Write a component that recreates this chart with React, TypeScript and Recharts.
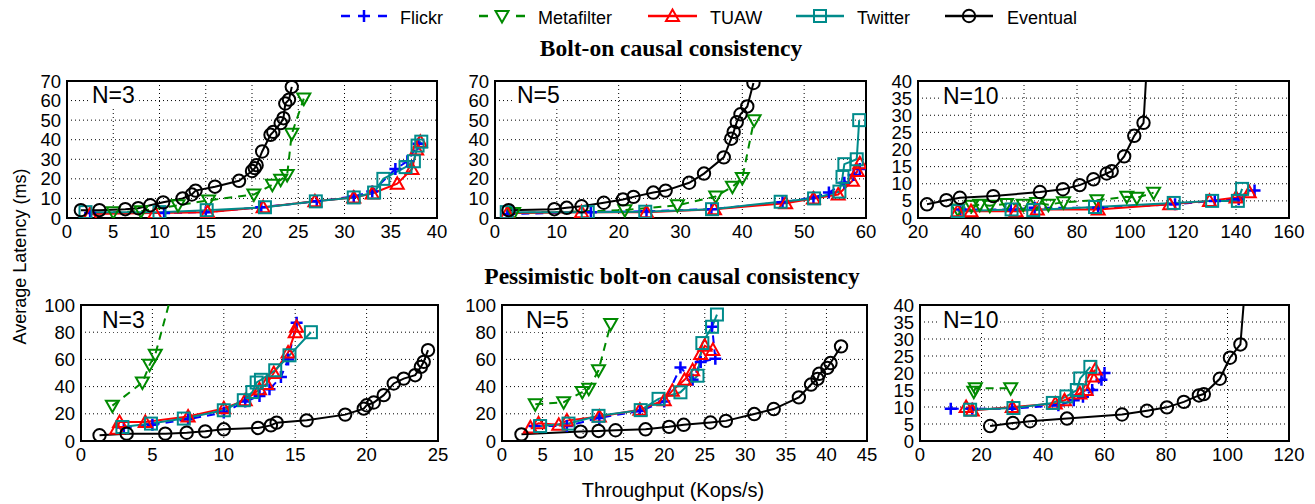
import React from "react";
import {
  CartesianGrid,
  Line,
  LineChart,
  ReferenceArea,
  XAxis,
  YAxis,
} from "recharts";

type Pt = [number, number];

// ---- Bolt-on causal consistency, N=3 ----
const boltN3Flickr: Pt[] = [[2.5, 2.5], [10.5, 2.5], [15, 3], [21, 5.5], [27, 8.5], [31, 11], [33, 13.5], [35.5, 25], [36.8, 29], [38, 38]];
const boltN3Metafilter: Pt[] = [[5, 3], [8, 3.5], [12, 6.5], [15.3, 9], [20.2, 12], [22.2, 17], [23.1, 19.5], [23.8, 22], [24.3, 43], [25.6, 61]];
const boltN3Tuaw: Pt[] = [[2.5, 2], [9.5, 2.5], [15.2, 3], [21.2, 5.5], [26.8, 8.5], [31, 10.5], [33, 12.5], [35.7, 17.5], [37.3, 25], [37.8, 35], [38.2, 39]];
const boltN3Twitter: Pt[] = [[2, 3], [10, 3], [15.1, 4], [21.4, 5.5], [26.9, 8.5], [31, 10.5], [33.2, 13], [34.2, 20], [36.6, 26], [37.5, 29], [37.9, 37], [38.3, 39]];
const boltN3Eventual: Pt[] = [[1.5, 4], [3.5, 4], [6.3, 4.5], [7.7, 5], [9, 6.5], [10.4, 8], [12.5, 10], [13.5, 12], [13.9, 14], [16, 16], [18.6, 19], [20, 24], [20.3, 25.5], [20.5, 27], [21.1, 34], [22, 42.5], [22.3, 44], [23.1, 48.5], [23.4, 51], [23.6, 58.5], [24, 60.5], [24.3, 67]];

// ---- Bolt-on causal consistency, N=5 ----
const boltN5Flickr: Pt[] = [[2, 2], [15.5, 3], [24.5, 3.5], [35, 4.5], [46.5, 8], [51.5, 10.5], [54, 13], [56.5, 18], [58, 22], [59, 25]];
const boltN5Metafilter: Pt[] = [[3, 2.5], [21, 4], [29.5, 6.5], [35.7, 11], [38.4, 16], [40, 20.5], [41.9, 50]];
const boltN5Tuaw: Pt[] = [[2, 2.5], [14, 3], [24.5, 3], [35.5, 4.5], [47, 7.5], [51.5, 10], [55.5, 12], [57.8, 19], [58.6, 24], [59, 28]];
const boltN5Twitter: Pt[] = [[1.9, 3], [15, 3], [24.3, 3.2], [35.1, 4.5], [46.2, 8.3], [51.6, 10], [55.7, 13.5], [56.2, 21], [56.5, 27.5], [58.5, 30], [58.9, 50]];
const boltN5Eventual: Pt[] = [[2.2, 4], [9.6, 4.5], [11.6, 5.2], [14, 6], [17.6, 7.8], [20.7, 9.5], [22.4, 10.8], [25.6, 13], [27.6, 14], [31.4, 18], [33.8, 22.7], [37, 31], [38.2, 40.5], [38.6, 44], [39.1, 49], [39.7, 53], [40.8, 57], [41.8, 69]];

// ---- Bolt-on causal consistency, N=10 ----
const boltN10Flickr: Pt[] = [[36, 2.5], [55, 2.5], [64, 3], [88, 3], [117, 4], [132, 5], [141, 5.5], [147, 8]];
const boltN10Metafilter: Pt[] = [[35, 2.5], [40.2, 3.6], [43.3, 3.9], [47.1, 3.6], [53.4, 4.1], [59.7, 3.9], [64.8, 4.4], [69.2, 3.9], [74.9, 4.6], [87.5, 5.2], [98.8, 6.2], [102.6, 5.9], [108.9, 7.4]];
const boltN10Tuaw: Pt[] = [[35, 2], [40, 2], [57, 2], [65, 2.5], [88, 2.5], [115, 4], [130, 5], [140, 6], [145, 7.5]];
const boltN10Twitter: Pt[] = [[35, 2], [55.3, 2.5], [63.5, 2.3], [86.8, 3.2], [116.5, 4.4], [131, 5], [140.7, 5], [142.3, 8.5]];
const boltN10Eventual: Pt[] = [[23.4, 4], [30.7, 5.2], [35.8, 5.9], [48.4, 6.4], [66, 7.6], [74.7, 8.4], [81, 9.6], [86.2, 11.3], [91.2, 13], [93.1, 13.7], [97.8, 18], [101.6, 24], [105.1, 27.8], [107.5, 60]];

// ---- Pessimistic bolt-on, N=3 ----
const pessN3Flickr: Pt[] = [[3, 10], [5, 12], [7.5, 16], [10, 21], [11.5, 29], [12.5, 33], [13.2, 38], [14, 47], [14.5, 60], [15.1, 87]];
const pessN3Metafilter: Pt[] = [[2.2, 26], [4.3, 43], [4.8, 56], [5.2, 63.5], [6.4, 110]];
const pessN3Tuaw: Pt[] = [[2.5, 9], [2.7, 14], [4.5, 14], [7.5, 18], [10, 24], [11.5, 30], [12.5, 38], [13, 42], [13.5, 50], [14.5, 65], [15, 80], [15.1, 84]];
const pessN3Twitter: Pt[] = [[2.9, 10.3], [4.9, 12.8], [7.2, 16.5], [10, 22.6], [11.4, 30], [12, 36], [12.3, 43], [12.6, 45], [13.6, 52], [14.6, 63], [16.1, 80]];
const pessN3Eventual: Pt[] = [[1.3, 4.2], [3.2, 5.4], [5.9, 5.4], [7.4, 6.1], [8.7, 7.1], [10, 8.6], [12.4, 9.6], [13.3, 11.5], [13.7, 13.5], [15.8, 15.2], [18.5, 19.4], [19.8, 23.8], [20, 26.3], [20.5, 28.3], [21.2, 33.7], [21.9, 42.3], [22.6, 45.9], [23.4, 48.4], [23.8, 54.5], [24, 58.2], [24.3, 66.8]];

// ---- Pessimistic bolt-on, N=5 ----
const pessN5Flickr: Pt[] = [[4, 11], [8, 11], [12, 17], [17, 22], [20, 29], [22, 54], [23.5, 45], [24.5, 58], [26.3, 60.5], [25.9, 84]];
const pessN5Metafilter: Pt[] = [[4.1, 27], [7.6, 28.5], [9.9, 36], [10.7, 38.5], [11.9, 52], [13.4, 86]];
const pessN5Tuaw: Pt[] = [[3.5, 10], [4.5, 13], [7, 12], [8, 15], [12, 18], [17, 23], [20, 30], [21, 37], [22.5, 45], [23.5, 52], [24.5, 64], [25, 70], [26, 67]];
const pessN5Twitter: Pt[] = [[4.7, 11], [8.2, 12.8], [11.9, 18.5], [17.1, 22.7], [19.3, 31], [22, 35.8], [24.1, 48], [24.7, 72], [25.9, 84], [26.5, 93]];
const pessN5Eventual: Pt[] = [[2.4, 4.9], [9.7, 6.9], [11.9, 7.4], [14, 7.9], [17.7, 8.6], [20.6, 10.4], [22.4, 11.9], [25.7, 13.6], [27.6, 14.8], [31.1, 19.8], [33.5, 23.5], [36.6, 32.1], [38.1, 41.5], [38.9, 45.7], [39.1, 49.4], [40.1, 53.8], [40.5, 57.3], [41.8, 69.6]];

// ---- Pessimistic bolt-on, N=10 ----
const pessN10Flickr: Pt[] = [[10, 9.5], [17, 9.5], [30, 9.5], [45, 10.5], [50, 12], [53, 13], [56, 15], [59, 18], [60, 20]];
const pessN10Metafilter: Pt[] = [[17.5, 14.5], [18, 15.5], [29.5, 15.5]];
const pessN10Tuaw: Pt[] = [[15, 10], [17, 9], [30, 10], [44, 11], [47, 12], [52, 14], [54, 15], [56, 19], [57, 21]];
const pessN10Twitter: Pt[] = [[16.3, 9.2], [30.4, 9.7], [43.2, 11.2], [47.6, 13.1], [51, 15], [52.1, 18.4], [55.4, 21.8]];
const pessN10Eventual: Pt[] = [[22.8, 4.4], [30.2, 5.3], [35.8, 5.8], [47.8, 6.6], [65.7, 7.8], [73.8, 8.9], [80.3, 9.9], [85.8, 11.5], [90.7, 13.4], [92.3, 13.8], [97.5, 18.3], [100.8, 24.5], [104.2, 28.4], [107, 60]];

// ticks
const ticksX40 = [0, 5, 10, 15, 20, 25, 30, 35, 40];
const ticksX60 = [0, 10, 20, 30, 40, 50, 60];
const ticksX160 = [20, 40, 60, 80, 100, 120, 140, 160];
const ticksX25 = [0, 5, 10, 15, 20, 25];
const ticksX45 = [0, 5, 10, 15, 20, 25, 30, 35, 40, 45];
const ticksX120 = [0, 20, 40, 60, 80, 100, 120];
const ticksY70 = [0, 10, 20, 30, 40, 50, 60, 70];
const ticksY40 = [0, 5, 10, 15, 20, 25, 30, 35, 40];
const ticksY100 = [0, 20, 40, 60, 80, 100];

const seriesNames = ["Flickr", "Metafilter", "TUAW", "Twitter", "Eventual"];

type Shape = "plus" | "triDown" | "triUp" | "square" | "circle";
const seriesStyle: { color: string; dash?: string; shape: Shape }[] = [
  { color: "#0000ff", dash: "8 6", shape: "plus" },
  { color: "#008a00", dash: "8 6", shape: "triDown" },
  { color: "#ff0000", shape: "triUp" },
  { color: "#008b8b", shape: "square" },
  { color: "#000000", shape: "circle" },
];

const SANS = "'Liberation Sans', Arial, Helvetica, sans-serif";
const SERIF = "'Liberation Serif', 'Times New Roman', serif";

function Marker({ shape, color, cx, cy }: { shape: Shape; color: string; cx: number; cy: number }) {
  const sw = 2;
  switch (shape) {
    case "plus":
      return <path d={`M${cx - 6},${cy}H${cx + 6}M${cx},${cy - 6}V${cy + 6}`} stroke={color} strokeWidth={2.5} fill="none" />;
    case "triDown":
      return <path d={`M${cx - 6.5},${cy - 5}L${cx + 6.5},${cy - 5}L${cx},${cy + 6.5}Z`} stroke={color} strokeWidth={sw} fill="none" />;
    case "triUp":
      return <path d={`M${cx - 6.5},${cy + 5}L${cx + 6.5},${cy + 5}L${cx},${cy - 6.5}Z`} stroke={color} strokeWidth={sw} fill="none" />;
    case "square":
      return <rect x={cx - 6} y={cy - 6} width={12} height={12} stroke={color} strokeWidth={sw} fill="none" />;
    default:
      return <circle cx={cx} cy={cy} r={6.2} stroke={color} strokeWidth={sw} fill="none" />;
  }
}

type PanelProps = {
  left: number;
  top: number;
  width: number;
  height: number;
  xDomain: [number, number];
  yDomain: [number, number];
  xTicks: number[];
  yTicks: number[];
  series: Pt[][];
};

const YW = 50;
const MT = 10;
const MR = 24;
const XH = 30;

function Panel({ left, top, width, height, xDomain, yDomain, xTicks, yTicks, series }: PanelProps) {
  const tick = { fill: "#000", fontSize: 18.5, fontFamily: SANS };
  return (
    <div style={{ position: "absolute", left: left - YW, top: top - MT }}>
      <LineChart
        width={YW + width + MR}
        height={MT + height + XH}
        margin={{ top: MT, right: MR, left: 0, bottom: 0 }}
      >
        <CartesianGrid stroke="#000" strokeDasharray="1 3" strokeWidth={1} />
        <XAxis
          type="number"
          dataKey="x"
          domain={xDomain}
          ticks={xTicks}
          allowDataOverflow
          height={XH}
          tickLine={false}
          axisLine={false}
          tickSize={4}
          tickMargin={3}
          tick={tick}
          interval={0}
        />
        <YAxis
          type="number"
          dataKey="y"
          domain={yDomain}
          ticks={yTicks}
          allowDataOverflow
          width={YW}
          tickLine={false}
          axisLine={false}
          tickSize={3}
          tickMargin={3}
          tick={tick}
          interval={0}
        />
        {series.map((pts, i) => {
          const st = seriesStyle[i];
          return (
            <Line
              key={seriesNames[i]}
              name={seriesNames[i]}
              data={pts.map(([x, y]) => ({ x, y }))}
              dataKey="y"
              type="linear"
              stroke={st.color}
              strokeWidth={2}
              strokeDasharray={st.dash}
              isAnimationActive={false}
              activeDot={false}
              dot={(p: any) => (
                <Marker key={`${i}-${p.index}`} shape={st.shape} color={st.color} cx={p.cx} cy={p.cy} />
              )}
            />
          );
        })}
        <ReferenceArea
          x1={xDomain[0]}
          x2={xDomain[1]}
          y1={yDomain[0]}
          y2={yDomain[1]}
          fill="none"
          fillOpacity={0}
          stroke="#000"
          strokeWidth={2}
        />
      </LineChart>
    </div>
  );
}

const panels: (PanelProps & { label: string; labelX: number; labelY: number })[] = [
  { left: 67, top: 81, width: 370, height: 137, xDomain: [0, 40], yDomain: [0, 70], xTicks: ticksX40, yTicks: ticksY70, series: [boltN3Flickr, boltN3Metafilter, boltN3Tuaw, boltN3Twitter, boltN3Eventual], label: "N=3", labelX: 92, labelY: 103 },
  { left: 495, top: 81, width: 371, height: 137, xDomain: [0, 60], yDomain: [0, 70], xTicks: ticksX60, yTicks: ticksY70, series: [boltN5Flickr, boltN5Metafilter, boltN5Tuaw, boltN5Twitter, boltN5Eventual], label: "N=5", labelX: 517, labelY: 103 },
  { left: 918, top: 81, width: 371, height: 137, xDomain: [20, 160], yDomain: [0, 40], xTicks: ticksX160, yTicks: ticksY40, series: [boltN10Flickr, boltN10Metafilter, boltN10Tuaw, boltN10Twitter, boltN10Eventual], label: "N=10", labelX: 943, labelY: 104 },
  { left: 81, top: 305, width: 357, height: 136, xDomain: [0, 25], yDomain: [0, 100], xTicks: ticksX25, yTicks: ticksY100, series: [pessN3Flickr, pessN3Metafilter, pessN3Tuaw, pessN3Twitter, pessN3Eventual], label: "N=3", labelX: 102, labelY: 328 },
  { left: 502, top: 305, width: 365, height: 136, xDomain: [0, 45], yDomain: [0, 100], xTicks: ticksX45, yTicks: ticksY100, series: [pessN5Flickr, pessN5Metafilter, pessN5Tuaw, pessN5Twitter, pessN5Eventual], label: "N=5", labelX: 526, labelY: 328 },
  { left: 920, top: 305, width: 369, height: 136, xDomain: [0, 120], yDomain: [0, 40], xTicks: ticksX120, yTicks: ticksY40, series: [pessN10Flickr, pessN10Metafilter, pessN10Tuaw, pessN10Twitter, pessN10Eventual], label: "N=10", labelX: 943, labelY: 328 },
];

// legend layout: line start/end, text start
const legendLayout = [
  { x1: 341, x2: 387, tx: 400 },
  { x1: 479, x2: 525, tx: 538 },
  { x1: 648, x2: 697, tx: 710 },
  { x1: 796, x2: 844, tx: 857 },
  { x1: 945, x2: 993, tx: 1007 },
];

export default function App() {
  return (
    <div style={{ position: "relative", width: 1315, height: 504, background: "#fff", overflow: "hidden" }}>
      <style>{"body{margin:0}"}</style>
      {panels.map((p, i) => (
        <Panel key={i} {...p} />
      ))}
      <svg width={1315} height={504} style={{ position: "absolute", left: 0, top: 0, pointerEvents: "none" }}>
        {legendLayout.map((l, i) => {
          const st = seriesStyle[i];
          const cy = 16;
          const mid = (l.x1 + l.x2) / 2;
          return (
            <g key={seriesNames[i]}>
              <line x1={l.x1} x2={l.x2} y1={cy} y2={cy} stroke={st.color} strokeWidth={2.5} strokeDasharray={st.dash ? "9 9.5" : undefined} />
              <rect x={mid - 7} y={cy - 7} width={14} height={14} fill="#fff" opacity={st.dash ? 1 : 0} />
              <Marker shape={st.shape} color={st.color} cx={mid} cy={cy} />
              <text x={l.tx} y={23.5} fontFamily={SANS} fontSize={18} fill="#000">
                {seriesNames[i]}
              </text>
            </g>
          );
        })}
        <text x={671} y={56} textAnchor="middle" fontFamily={SERIF} fontWeight="bold" fontSize={23.5} fill="#000">
          Bolt-on causal consistency
        </text>
        <text x={672} y={283.5} textAnchor="middle" fontFamily={SERIF} fontWeight="bold" fontSize={23.5} fill="#000">
          Pessimistic bolt-on causal consistency
        </text>
        <text x={673} y={497} textAnchor="middle" fontFamily={SANS} fontSize={20} fill="#000">
          Throughput (Kops/s)
        </text>
        <text transform="translate(26,256.5) rotate(-90)" textAnchor="middle" fontFamily={SANS} fontSize={18} fill="#000">
          Average Latency (ms)
        </text>
        {panels.map((p, i) => (
          <g key={`lab${i}`}>
            <rect x={p.labelX - 3} y={p.labelY - 19} width={p.label.length * 13.5 + 6} height={23} fill="#fff" />
            <text x={p.labelX} y={p.labelY} fontFamily={SANS} fontSize={23} fill="#000">
              {p.label}
            </text>
          </g>
        ))}
      </svg>
    </div>
  );
}
